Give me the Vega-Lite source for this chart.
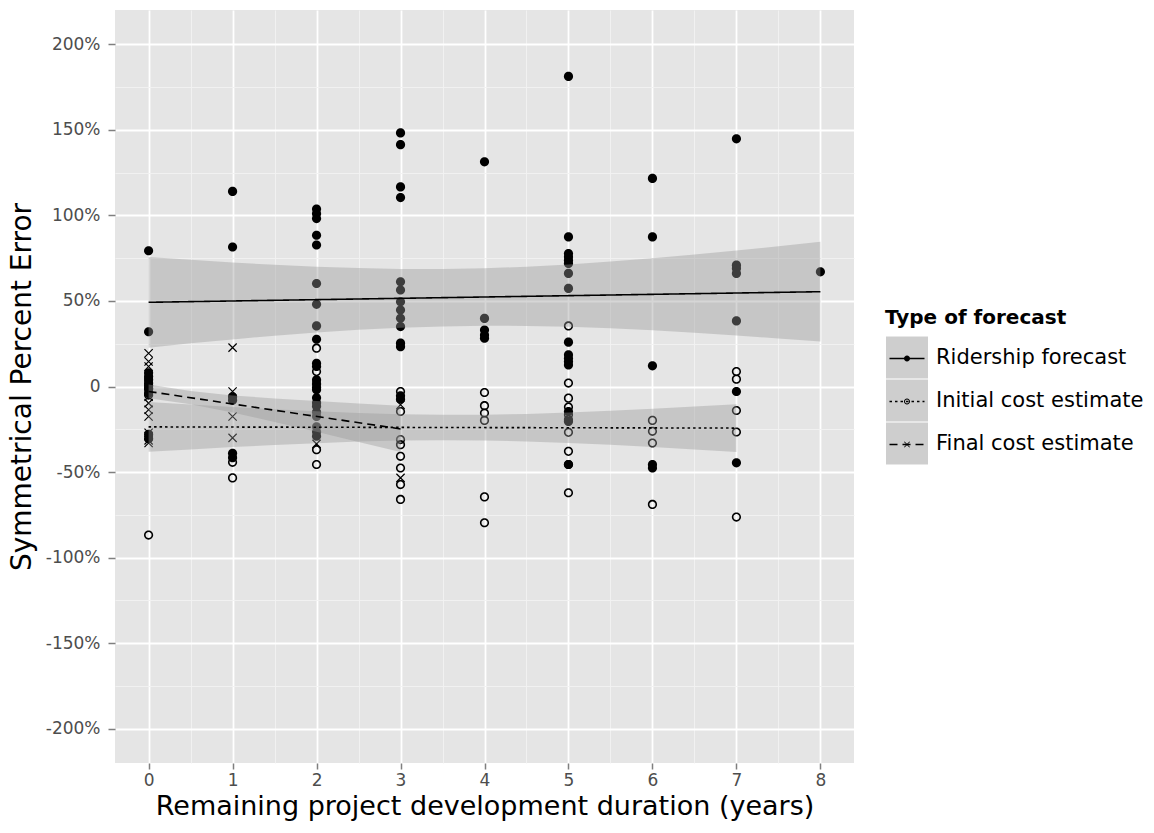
{
  "$schema": "https://vega.github.io/schema/vega-lite/v6.json",
  "width": 739,
  "height": 753,
  "padding": {"left": 8, "top": 10, "right": 5, "bottom": 5},
  "background": "white",
  "datasets": {
    "points": [
      {"years": 0, "spe": 79.3, "type": "Ridership forecast"},
      {"years": 0, "spe": 32.0, "type": "Ridership forecast"},
      {"years": 0, "spe": 8.0, "type": "Ridership forecast"},
      {"years": 0, "spe": 6.0, "type": "Ridership forecast"},
      {"years": 0, "spe": 4.0, "type": "Ridership forecast"},
      {"years": 0, "spe": 2.0, "type": "Ridership forecast"},
      {"years": 0, "spe": 0.5, "type": "Ridership forecast"},
      {"years": 0, "spe": -1.5, "type": "Ridership forecast"},
      {"years": 0, "spe": -4.0, "type": "Ridership forecast"},
      {"years": 0, "spe": -28.0, "type": "Ridership forecast"},
      {"years": 0, "spe": -30.5, "type": "Ridership forecast"},
      {"years": 1, "spe": 114.0, "type": "Ridership forecast"},
      {"years": 1, "spe": 81.5, "type": "Ridership forecast"},
      {"years": 1, "spe": -6.0, "type": "Ridership forecast"},
      {"years": 1, "spe": -8.0, "type": "Ridership forecast"},
      {"years": 1, "spe": -39.0, "type": "Ridership forecast"},
      {"years": 1, "spe": -41.6, "type": "Ridership forecast"},
      {"years": 2, "spe": 103.7, "type": "Ridership forecast"},
      {"years": 2, "spe": 101.0, "type": "Ridership forecast"},
      {"years": 2, "spe": 98.1, "type": "Ridership forecast"},
      {"years": 2, "spe": 88.4, "type": "Ridership forecast"},
      {"years": 2, "spe": 82.7, "type": "Ridership forecast"},
      {"years": 2, "spe": 60.2, "type": "Ridership forecast"},
      {"years": 2, "spe": 48.0, "type": "Ridership forecast"},
      {"years": 2, "spe": 35.4, "type": "Ridership forecast"},
      {"years": 2, "spe": 27.6, "type": "Ridership forecast"},
      {"years": 2, "spe": 13.6, "type": "Ridership forecast"},
      {"years": 2, "spe": 11.7, "type": "Ridership forecast"},
      {"years": 2, "spe": 3.9, "type": "Ridership forecast"},
      {"years": 2, "spe": 1.5, "type": "Ridership forecast"},
      {"years": 2, "spe": -0.5, "type": "Ridership forecast"},
      {"years": 2, "spe": -1.9, "type": "Ridership forecast"},
      {"years": 2, "spe": -6.6, "type": "Ridership forecast"},
      {"years": 2, "spe": -9.5, "type": "Ridership forecast"},
      {"years": 2, "spe": -11.5, "type": "Ridership forecast"},
      {"years": 2, "spe": -15.0, "type": "Ridership forecast"},
      {"years": 2, "spe": -17.5, "type": "Ridership forecast"},
      {"years": 2, "spe": -23.5, "type": "Ridership forecast"},
      {"years": 2, "spe": -26.5, "type": "Ridership forecast"},
      {"years": 2, "spe": -29.0, "type": "Ridership forecast"},
      {"years": 3, "spe": 148.2, "type": "Ridership forecast"},
      {"years": 3, "spe": 141.3, "type": "Ridership forecast"},
      {"years": 3, "spe": 116.6, "type": "Ridership forecast"},
      {"years": 3, "spe": 110.4, "type": "Ridership forecast"},
      {"years": 3, "spe": 61.2, "type": "Ridership forecast"},
      {"years": 3, "spe": 56.4, "type": "Ridership forecast"},
      {"years": 3, "spe": 49.5, "type": "Ridership forecast"},
      {"years": 3, "spe": 44.7, "type": "Ridership forecast"},
      {"years": 3, "spe": 39.9, "type": "Ridership forecast"},
      {"years": 3, "spe": 35.0, "type": "Ridership forecast"},
      {"years": 3, "spe": 25.3, "type": "Ridership forecast"},
      {"years": 3, "spe": 23.3, "type": "Ridership forecast"},
      {"years": 3, "spe": -5.4, "type": "Ridership forecast"},
      {"years": 3, "spe": -7.4, "type": "Ridership forecast"},
      {"years": 4, "spe": 131.3, "type": "Ridership forecast"},
      {"years": 4, "spe": 39.8, "type": "Ridership forecast"},
      {"years": 4, "spe": 33.0, "type": "Ridership forecast"},
      {"years": 4, "spe": 30.1, "type": "Ridership forecast"},
      {"years": 4, "spe": 28.2, "type": "Ridership forecast"},
      {"years": 5, "spe": 181.2, "type": "Ridership forecast"},
      {"years": 5, "spe": 87.4, "type": "Ridership forecast"},
      {"years": 5, "spe": 77.7, "type": "Ridership forecast"},
      {"years": 5, "spe": 75.8, "type": "Ridership forecast"},
      {"years": 5, "spe": 73.8, "type": "Ridership forecast"},
      {"years": 5, "spe": 71.9, "type": "Ridership forecast"},
      {"years": 5, "spe": 66.1, "type": "Ridership forecast"},
      {"years": 5, "spe": 57.3, "type": "Ridership forecast"},
      {"years": 5, "spe": 25.9, "type": "Ridership forecast"},
      {"years": 5, "spe": 18.5, "type": "Ridership forecast"},
      {"years": 5, "spe": 16.5, "type": "Ridership forecast"},
      {"years": 5, "spe": 14.6, "type": "Ridership forecast"},
      {"years": 5, "spe": 12.6, "type": "Ridership forecast"},
      {"years": 5, "spe": -14.6, "type": "Ridership forecast"},
      {"years": 5, "spe": -20.4, "type": "Ridership forecast"},
      {"years": 5, "spe": -45.6, "type": "Ridership forecast"},
      {"years": 6, "spe": 121.6, "type": "Ridership forecast"},
      {"years": 6, "spe": 87.4, "type": "Ridership forecast"},
      {"years": 6, "spe": 12.1, "type": "Ridership forecast"},
      {"years": 6, "spe": -45.6, "type": "Ridership forecast"},
      {"years": 6, "spe": -47.6, "type": "Ridership forecast"},
      {"years": 7, "spe": 144.7, "type": "Ridership forecast"},
      {"years": 7, "spe": 70.9, "type": "Ridership forecast"},
      {"years": 7, "spe": 69.0, "type": "Ridership forecast"},
      {"years": 7, "spe": 66.1, "type": "Ridership forecast"},
      {"years": 7, "spe": 38.3, "type": "Ridership forecast"},
      {"years": 7, "spe": -2.9, "type": "Ridership forecast"},
      {"years": 7, "spe": -44.6, "type": "Ridership forecast"},
      {"years": 8, "spe": 67.0, "type": "Ridership forecast"},
      {"years": 0, "spe": -1.0, "type": "Initial cost estimate"},
      {"years": 0, "spe": -5.0, "type": "Initial cost estimate"},
      {"years": 0, "spe": -86.8, "type": "Initial cost estimate"},
      {"years": 1, "spe": -44.3, "type": "Initial cost estimate"},
      {"years": 1, "spe": -53.4, "type": "Initial cost estimate"},
      {"years": 2, "spe": 22.4, "type": "Initial cost estimate"},
      {"years": 2, "spe": 8.7, "type": "Initial cost estimate"},
      {"years": 2, "spe": -36.9, "type": "Initial cost estimate"},
      {"years": 2, "spe": -45.6, "type": "Initial cost estimate"},
      {"years": 3, "spe": -2.9, "type": "Initial cost estimate"},
      {"years": 3, "spe": -14.6, "type": "Initial cost estimate"},
      {"years": 3, "spe": -31.0, "type": "Initial cost estimate"},
      {"years": 3, "spe": -34.0, "type": "Initial cost estimate"},
      {"years": 3, "spe": -40.8, "type": "Initial cost estimate"},
      {"years": 3, "spe": -47.6, "type": "Initial cost estimate"},
      {"years": 3, "spe": -57.3, "type": "Initial cost estimate"},
      {"years": 3, "spe": -66.0, "type": "Initial cost estimate"},
      {"years": 4, "spe": -3.5, "type": "Initial cost estimate"},
      {"years": 4, "spe": -11.2, "type": "Initial cost estimate"},
      {"years": 4, "spe": -15.5, "type": "Initial cost estimate"},
      {"years": 4, "spe": -19.8, "type": "Initial cost estimate"},
      {"years": 4, "spe": -64.5, "type": "Initial cost estimate"},
      {"years": 4, "spe": -79.6, "type": "Initial cost estimate"},
      {"years": 5, "spe": 35.4, "type": "Initial cost estimate"},
      {"years": 5, "spe": 2.0, "type": "Initial cost estimate"},
      {"years": 5, "spe": -6.8, "type": "Initial cost estimate"},
      {"years": 5, "spe": -12.0, "type": "Initial cost estimate"},
      {"years": 5, "spe": -16.5, "type": "Initial cost estimate"},
      {"years": 5, "spe": -19.4, "type": "Initial cost estimate"},
      {"years": 5, "spe": -26.8, "type": "Initial cost estimate"},
      {"years": 5, "spe": -37.9, "type": "Initial cost estimate"},
      {"years": 5, "spe": -45.6, "type": "Initial cost estimate"},
      {"years": 5, "spe": -62.1, "type": "Initial cost estimate"},
      {"years": 6, "spe": -19.8, "type": "Initial cost estimate"},
      {"years": 6, "spe": -26.2, "type": "Initial cost estimate"},
      {"years": 6, "spe": -33.0, "type": "Initial cost estimate"},
      {"years": 6, "spe": -68.9, "type": "Initial cost estimate"},
      {"years": 7, "spe": 8.7, "type": "Initial cost estimate"},
      {"years": 7, "spe": 4.3, "type": "Initial cost estimate"},
      {"years": 7, "spe": -14.0, "type": "Initial cost estimate"},
      {"years": 7, "spe": -26.6, "type": "Initial cost estimate"},
      {"years": 7, "spe": -76.3, "type": "Initial cost estimate"},
      {"years": 0, "spe": 19.4, "type": "Final cost estimate"},
      {"years": 0, "spe": 14.6, "type": "Final cost estimate"},
      {"years": 0, "spe": 11.7, "type": "Final cost estimate"},
      {"years": 0, "spe": 7.0, "type": "Final cost estimate"},
      {"years": 0, "spe": 3.0, "type": "Final cost estimate"},
      {"years": 0, "spe": 1.0, "type": "Final cost estimate"},
      {"years": 0, "spe": -0.5, "type": "Final cost estimate"},
      {"years": 0, "spe": -3.0, "type": "Final cost estimate"},
      {"years": 0, "spe": -6.0, "type": "Final cost estimate"},
      {"years": 0, "spe": -9.7, "type": "Final cost estimate"},
      {"years": 0, "spe": -13.6, "type": "Final cost estimate"},
      {"years": 0, "spe": -17.5, "type": "Final cost estimate"},
      {"years": 0, "spe": -27.0, "type": "Final cost estimate"},
      {"years": 0, "spe": -29.0, "type": "Final cost estimate"},
      {"years": 0, "spe": -31.5, "type": "Final cost estimate"},
      {"years": 0, "spe": -33.0, "type": "Final cost estimate"},
      {"years": 1, "spe": 22.7, "type": "Final cost estimate"},
      {"years": 1, "spe": -2.9, "type": "Final cost estimate"},
      {"years": 1, "spe": -17.5, "type": "Final cost estimate"},
      {"years": 1, "spe": -30.0, "type": "Final cost estimate"},
      {"years": 2, "spe": 0.5, "type": "Final cost estimate"},
      {"years": 2, "spe": -33.5, "type": "Final cost estimate"},
      {"years": 3, "spe": -10.7, "type": "Final cost estimate"},
      {"years": 3, "spe": -53.4, "type": "Final cost estimate"}
    ],
    "bands": [
      {"years": 0, "lo": 22.7, "hi": 75.7, "type": "Ridership forecast"},
      {"years": 0.5, "lo": 25.2, "hi": 74.0, "type": "Ridership forecast"},
      {"years": 1, "lo": 27.5, "hi": 72.4, "type": "Ridership forecast"},
      {"years": 1.5, "lo": 29.7, "hi": 71.1, "type": "Ridership forecast"},
      {"years": 2, "lo": 31.5, "hi": 70.0, "type": "Ridership forecast"},
      {"years": 2.5, "lo": 33.1, "hi": 69.2, "type": "Ridership forecast"},
      {"years": 3, "lo": 34.4, "hi": 68.7, "type": "Ridership forecast"},
      {"years": 3.5, "lo": 35.1, "hi": 68.7, "type": "Ridership forecast"},
      {"years": 4, "lo": 35.5, "hi": 69.1, "type": "Ridership forecast"},
      {"years": 4.5, "lo": 35.4, "hi": 70.0, "type": "Ridership forecast"},
      {"years": 5, "lo": 34.9, "hi": 71.3, "type": "Ridership forecast"},
      {"years": 5.5, "lo": 34.0, "hi": 73.0, "type": "Ridership forecast"},
      {"years": 6, "lo": 32.8, "hi": 74.9, "type": "Ridership forecast"},
      {"years": 6.5, "lo": 31.4, "hi": 77.1, "type": "Ridership forecast"},
      {"years": 7, "lo": 29.8, "hi": 79.4, "type": "Ridership forecast"},
      {"years": 7.5, "lo": 28.1, "hi": 81.9, "type": "Ridership forecast"},
      {"years": 8, "lo": 26.3, "hi": 84.6, "type": "Ridership forecast"},
      {"years": 0, "lo": -38.2, "hi": -9.0, "type": "Initial cost estimate"},
      {"years": 0.5, "lo": -36.8, "hi": -10.5, "type": "Initial cost estimate"},
      {"years": 1, "lo": -35.4, "hi": -12.0, "type": "Initial cost estimate"},
      {"years": 1.5, "lo": -34.2, "hi": -13.3, "type": "Initial cost estimate"},
      {"years": 2, "lo": -33.1, "hi": -14.5, "type": "Initial cost estimate"},
      {"years": 2.5, "lo": -32.2, "hi": -15.5, "type": "Initial cost estimate"},
      {"years": 3, "lo": -31.6, "hi": -16.2, "type": "Initial cost estimate"},
      {"years": 3.5, "lo": -31.4, "hi": -16.5, "type": "Initial cost estimate"},
      {"years": 4, "lo": -31.6, "hi": -16.5, "type": "Initial cost estimate"},
      {"years": 4.5, "lo": -32.1, "hi": -16.0, "type": "Initial cost estimate"},
      {"years": 5, "lo": -33.0, "hi": -15.2, "type": "Initial cost estimate"},
      {"years": 5.5, "lo": -34.1, "hi": -14.2, "type": "Initial cost estimate"},
      {"years": 6, "lo": -35.4, "hi": -13.0, "type": "Initial cost estimate"},
      {"years": 6.5, "lo": -36.8, "hi": -11.7, "type": "Initial cost estimate"},
      {"years": 7, "lo": -38.3, "hi": -10.3, "type": "Initial cost estimate"},
      {"years": 0, "lo": -6.9, "hi": 1.1, "type": "Final cost estimate"},
      {"years": 0.5, "lo": -10.4, "hi": -2.7, "type": "Final cost estimate"},
      {"years": 1, "lo": -15.2, "hi": -5.2, "type": "Final cost estimate"},
      {"years": 1.5, "lo": -20.7, "hi": -7.0, "type": "Final cost estimate"},
      {"years": 2, "lo": -26.5, "hi": -8.5, "type": "Final cost estimate"},
      {"years": 2.5, "lo": -32.4, "hi": -10.0, "type": "Final cost estimate"},
      {"years": 3, "lo": -38.3, "hi": -11.3, "type": "Final cost estimate"}
    ],
    "fits": [
      {"years": 0, "fit": 49.2, "type": "Ridership forecast"},
      {"years": 8, "fit": 55.4, "type": "Ridership forecast"},
      {"years": 0, "fit": -23.6, "type": "Initial cost estimate"},
      {"years": 7, "fit": -24.3, "type": "Initial cost estimate"},
      {"years": 0, "fit": -2.9, "type": "Final cost estimate"},
      {"years": 3, "fit": -24.8, "type": "Final cost estimate"}
    ]
  },
  "encoding": {
    "x": {
      "field": "years",
      "type": "quantitative",
      "scale": {"domain": [-0.4, 8.4], "nice": false, "zero": false},
      "axis": {
        "title": "Remaining project development duration (years)",
        "titleFontSize": 27,
        "values": [0, 0.5, 1, 1.5, 2, 2.5, 3, 3.5, 4, 4.5, 5, 5.5, 6, 6.5, 7, 7.5, 8],
        "labelExpr": "datum.value % 1 === 0 ? format(datum.value, 'd') : ''",
        "tickColor": {"condition": {"test": "datum.value % 1 !== 0", "value": "transparent"}, "value": "#7F7F7F"},
        "gridColor": {"condition": {"test": "datum.value % 1 !== 0", "value": "#F2F2F2"}, "value": "#FFFFFF"},
        "gridWidth": {"condition": {"test": "datum.value % 1 !== 0", "value": 0.9}, "value": 1.8},
        "labelPadding": 3,
        "titlePadding": 5,
        "labelFlush": false,
        "labelOverlap": false
      }
    },
    "y": {
      "type": "quantitative",
      "scale": {"domain": [-220, 220], "nice": false, "zero": false},
      "axis": {
        "title": "Symmetrical Percent Error",
        "titleFontSize": 28,
        "values": [-200, -175, -150, -125, -100, -75, -50, -25, 0, 25, 50, 75, 100, 125, 150, 175, 200],
        "labelExpr": "datum.value % 50 !== 0 ? '' : (datum.value === 0 ? '0' : datum.value + '%')",
        "tickColor": {"condition": {"test": "datum.value % 50 !== 0", "value": "transparent"}, "value": "#7F7F7F"},
        "gridColor": {"condition": {"test": "datum.value % 50 !== 0", "value": "#F2F2F2"}, "value": "#FFFFFF"},
        "gridWidth": {"condition": {"test": "datum.value % 50 !== 0", "value": 0.9}, "value": 1.8},
        "tickSize": 7,
        "labelPadding": 8,
        "titlePadding": 9,
        "labelFlush": false,
        "labelOverlap": false
      }
    }
  },
  "layer": [
    {
      "data": {"name": "points"},
      "mark": {"type": "point", "filled": true, "fill": "black", "strokeWidth": 0, "opacity": 1, "size": 84},
      "encoding": {
        "y": {"field": "spe"},
        "shape": {
          "field": "type",
          "type": "nominal",
          "sort": ["Ridership forecast", "Initial cost estimate", "Final cost estimate"],
          "scale": {
            "range": [
              "M1,0A1,1,0,1,1,-1,0A1,1,0,1,1,1,0Z",
              "M1,0A1,1,0,1,1,-1,0A1,1,0,1,1,1,0ZM0.66,0A0.66,0.66,0,1,0,-0.66,0A0.66,0.66,0,1,0,0.66,0Z",
              "M-0.808,-0.992L0.992,0.808L0.808,0.992L-0.992,-0.808ZM-0.992,0.808L0.808,-0.992L0.992,-0.808L-0.808,0.992Z"
            ]
          },
          "legend": {
            "orient": "none",
            "legendX": 781.5,
            "legendY": 327,
            "zindex": 3,
            "title": null,
            "symbolSize": 36,
            "symbolStrokeWidth": 0,
            "symbolFillColor": "black",
            "symbolOpacity": 1,
            "clipHeight": 43,
            "rowPadding": 0,
            "labelFontSize": 21,
            "labelExpr": "''"
          }
        }
      }
    },
    {
      "mark": {"type": "rule", "color": "#555555", "strokeWidth": 1.8},
      "encoding": {"y": {"datum": 0}, "x": null}
    },
    {
      "data": {"name": "bands"},
      "mark": {"type": "area", "opacity": 0.4},
      "encoding": {
        "y": {"field": "lo"},
        "y2": {"field": "hi"},
        "fill": {
          "field": "type",
          "type": "nominal",
          "sort": ["Ridership forecast", "Initial cost estimate", "Final cost estimate"],
          "scale": {"range": ["#999999", "#999999", "#999999"]},
          "legend": {
            "orient": "none",
            "legendX": 770,
            "legendY": 298,
            "zindex": 1,
            "title": "Type of forecast",
            "titleFontSize": 20,
            "titleFontWeight": "bold",
            "titleColor": "black",
            "titlePadding": 8,
            "titleLimit": 400,
            "symbolType": "square",
            "symbolSize": 1849,
            "symbolStrokeColor": "white",
            "symbolStrokeWidth": 1,
            "symbolOpacity": 0.48,
            "clipHeight": 43,
            "rowPadding": 0,
            "labelFontSize": 21,
            "labelColor": "black",
            "labelOffset": 7,
            "labelLimit": 400
          }
        }
      }
    },
    {
      "data": {"name": "fits"},
      "mark": {"type": "line", "color": "black", "strokeWidth": 1.6},
      "encoding": {
        "y": {"field": "fit"},
        "strokeDash": {
          "field": "type",
          "type": "nominal",
          "sort": ["Ridership forecast", "Initial cost estimate", "Final cost estimate"],
          "scale": {"range": [[1, 0], [2.5, 3], [8, 5]]},
          "legend": {
            "orient": "none",
            "legendX": 773.5,
            "legendY": 327,
            "zindex": 2,
            "title": null,
            "symbolType": "stroke",
            "symbolSize": 1225,
            "symbolStrokeWidth": 1.5,
            "symbolStrokeColor": "black",
            "clipHeight": 43,
            "rowPadding": 0,
            "labelFontSize": 21,
            "labelExpr": "''"
          }
        }
      }
    }
  ],
  "config": {
    "view": {"fill": "#E5E5E5", "stroke": null},
    "font": "DejaVu Sans",
    "axis": {
      "domain": false,
      "grid": true,
      "tickSize": 6,
      "tickWidth": 1.5,
      "labelColor": "#4D4D4D",
      "labelFontSize": 17,
      "titleColor": "#000000",
      "titleFontWeight": "normal",
      "titleFontSize": 26
    },
    "legend": {"labelFont": "DejaVu Sans", "titleFont": "DejaVu Sans"}
  }
}
